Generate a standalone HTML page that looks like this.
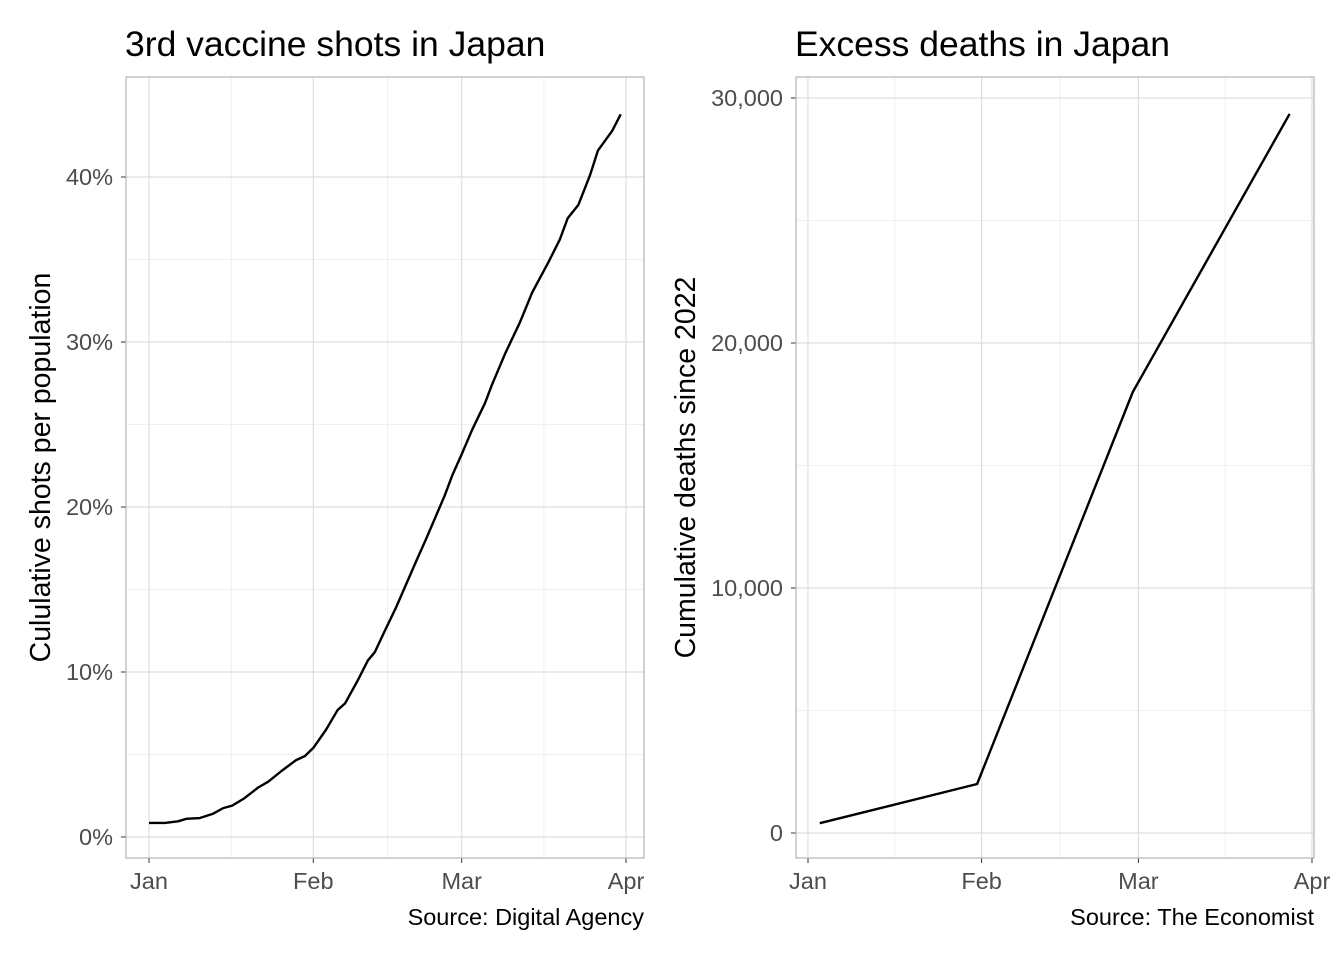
<!DOCTYPE html>
<html><head><meta charset="utf-8"><style>
body{margin:0;background:#fff;width:1344px;height:960px;overflow:hidden}
svg{display:block;font-family:"Liberation Sans",sans-serif}
</style></head><body>
<svg id="c" width="1344" height="960"></svg>
<script>
const leftDays=[0,3,5.5,7,9.6,12,14,15.7,18,20.6,22.5,25,27.7,29.4,31,33.4,35.6,37,39.4,41.3,42.6,44.5,46.6,48.9,50.8,52.2,54.2,55.8,57.2,59,61,63.4,64.7,67.2,70,72.3,75.3,77.5,79,81,83.2,84.7,87.4,89];
const leftVals=[0.85,0.85,0.95,1.1,1.15,1.4,1.75,1.9,2.35,3.0,3.35,4.0,4.65,4.9,5.4,6.5,7.7,8.1,9.5,10.7,11.2,12.5,13.9,15.6,17.0,18.0,19.5,20.7,21.9,23.2,24.7,26.3,27.4,29.3,31.2,33.0,34.8,36.2,37.5,38.3,40.1,41.6,42.8,43.8];
const rightDays=[2.1,30.2,58,86];
const rightVals=[400,2000,18000,29350];
const monthLabels=["Jan","Feb","Mar","Apr"];
const monthDays=[0,31,59,90];
const leftTicks=[0,10,20,30,40];
const rightTicks=[0,10000,20000,30000];

const NS="http://www.w3.org/2000/svg";
const svg=document.getElementById('c');
function mk(t,a,p){const e=document.createElementNS(NS,t);for(const k in a)e.setAttribute(k,a[k]);(p||svg).appendChild(e);return e;}

function panel(o){
  const g=mk('g',{});
  
  
  const xs=d=>o.x0+d*o.kx, ys=v=>o.y0-v*o.ky;
  for(let i=0;i<monthDays.length-1;i++){const m=(monthDays[i]+monthDays[i+1])/2;
    const l=mk('line',{x1:xs(m),x2:xs(m),y1:o.top,y2:o.bot,stroke:'#ebebeb','stroke-width':0.8},g);
    }
  for(let i=0;i<o.ticks.length-1;i++){const m=(o.ticks[i]+o.ticks[i+1])/2;
    const l=mk('line',{x1:o.left,x2:o.right,y1:ys(m),y2:ys(m),stroke:'#ebebeb','stroke-width':0.8},g);
    }
  monthDays.forEach((d,i)=>{
    const l=mk('line',{x1:xs(d),x2:xs(d),y1:o.top,y2:o.bot,stroke:'#dedede','stroke-width':1.2},g);
    
    mk('line',{x1:xs(d),x2:xs(d),y1:o.bot,y2:o.bot+5,stroke:'#333','stroke-width':1},g);
    const t=mk('text',{x:xs(d),y:o.bot+31,'text-anchor':'middle','font-size':23.5,fill:'#4d4d4d'},g);
    t.textContent=monthLabels[i];
    
  });
  o.ticks.forEach(v=>{
    const l=mk('line',{x1:o.left,x2:o.right,y1:ys(v),y2:ys(v),stroke:'#dedede','stroke-width':1.2},g);
    
    mk('line',{x1:o.left-5,x2:o.left,y1:ys(v),y2:ys(v),stroke:'#333','stroke-width':1},g);
    const t=mk('text',{x:o.left-13,y:ys(v)+8,'text-anchor':'end','font-size':23.5,fill:'#4d4d4d'},g);
    t.textContent=o.fmt(v);
    
  });
  const r=mk('rect',{x:o.left,y:o.top,width:o.right-o.left,height:o.bot-o.top,fill:'none',stroke:'#b3b3b3','stroke-width':1.2},g);
  
  const p=mk('polyline',{points:o.days.map((d,i)=>xs(d)+','+ys(o.vals[i])).join(' '),fill:'none',stroke:'#000','stroke-width':2.4,'stroke-linejoin':'round'},g);
  
  const ti=mk('text',{x:o.left-1,y:56,'font-size':35.5,fill:'#000'},g);ti.textContent=o.title;
  
  const yt=mk('text',{transform:`translate(${o.ylx},${(o.top+o.bot)/2}) rotate(-90)`,'text-anchor':'middle','font-size':28.5,fill:'#000'},g);
  yt.textContent=o.ylab;
  const s=mk('text',{x:o.right,y:925,'text-anchor':'end','font-size':23.5,fill:'#000'},g);
  s.textContent=o.src;
}
panel({name:'left-panel',left:126,right:644,top:77,bot:858,x0:149,kx:5.3,y0:837,ky:16.5,ticks:leftTicks,fmt:v=>v+'%',days:leftDays,vals:leftVals,title:'3rd vaccine shots in Japan',ylab:'Cululative shots per population',ylx:50,src:'Source: Digital Agency'});
panel({name:'right-panel',left:796,right:1314,top:77,bot:858,x0:808,kx:5.6,y0:833,ky:0.0245,ticks:rightTicks,fmt:v=>v.toLocaleString('en-US'),days:rightDays,vals:rightVals,title:'Excess deaths in Japan',ylab:'Cumulative deaths since 2022',ylx:695,src:'Source: The Economist'});
</script>
</body></html>
